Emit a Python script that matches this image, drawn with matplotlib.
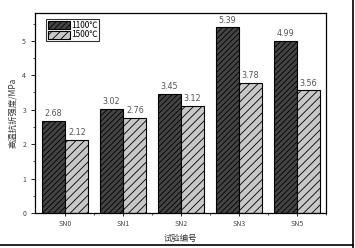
import matplotlib
matplotlib.use("Agg")
import matplotlib.pyplot as plt
import numpy as np
from matplotlib.ticker import MultipleLocator
from matplotlib.lines import Line2D

plt.rcParams['font.family'] = ['Noto Sans CJK SC', 'DejaVu Sans']
plt.rcParams['hatch.linewidth'] = 0.6

categories = ['SN0', 'SN1', 'SN2', 'SN3', 'SN5']
s1100 = [2.68, 3.02, 3.45, 5.39, 4.99]
s1500 = [2.12, 2.76, 3.12, 3.78, 3.56]
series_names = ['1100℃', '1500℃']
ylabel = '高温抗折强度/MPa'
xlabel = '试验编号'

fig = plt.figure(figsize=(3.55, 2.48), dpi=100)
ax = fig.add_axes([0.099, 0.141, 0.819, 0.807])

x = np.arange(len(categories))
w = 0.4
b1 = ax.bar(x - w/2, s1100, w, facecolor='#444444', edgecolor='black', hatch='//////', linewidth=0.8)
b2 = ax.bar(x + w/2, s1500, w, facecolor='#c8c8c8', edgecolor='black', hatch='////', linewidth=0.8)

for xi, v in zip(x - w/2, s1100):
    ax.text(xi, v + 0.08, f'{v:.2f}', ha='center', va='bottom', fontsize=5.8, color='#555555', family='DejaVu Sans')
for xi, v in zip(x + w/2, s1500):
    ax.text(xi, v + 0.08, f'{v:.2f}', ha='center', va='bottom', fontsize=5.8, color='#555555', family='DejaVu Sans')

ax.set_xlim(-0.52, 4.5)
ax.set_ylim(0, 5.81)
ax.set_xticks(x)
ax.set_xticklabels(categories, fontsize=5, color='#444444')
ax.yaxis.set_major_locator(MultipleLocator(1))
ax.yaxis.set_minor_locator(MultipleLocator(0.5))
ax.set_xticks(x + 0.5, minor=True)
ax.tick_params(axis='y', labelsize=5, labelcolor='#444444', length=3, width=0.6)
ax.tick_params(axis='x', length=2, width=0.6, pad=3)
ax.tick_params(which='minor', length=1.5, width=0.5)
for sp in ax.spines.values():
    sp.set_linewidth(0.9)

ax.set_ylabel(ylabel, fontsize=6, color='#333333', labelpad=4)
ax.set_xlabel(xlabel, fontsize=6, color='#333333', labelpad=4)

leg = ax.legend([b1, b2], series_names, loc='upper left', bbox_to_anchor=(0.038, 0.97),
                fontsize=6, frameon=True, fancybox=False, edgecolor='black',
                handlelength=2.6, handleheight=1.1, handletextpad=0.2, borderpad=0.2,
                labelspacing=0.1, borderaxespad=0)
leg.get_frame().set_linewidth(0.8)

# outer image border (right and bottom)
fig.add_artist(Line2D([0.994, 0.994], [0.0, 1.0], transform=fig.transFigure, color='black', lw=1.2))
fig.add_artist(Line2D([0.0, 0.994], [0.012, 0.012], transform=fig.transFigure, color='black', lw=1.2))

fig.savefig('out.png', dpi=100)
